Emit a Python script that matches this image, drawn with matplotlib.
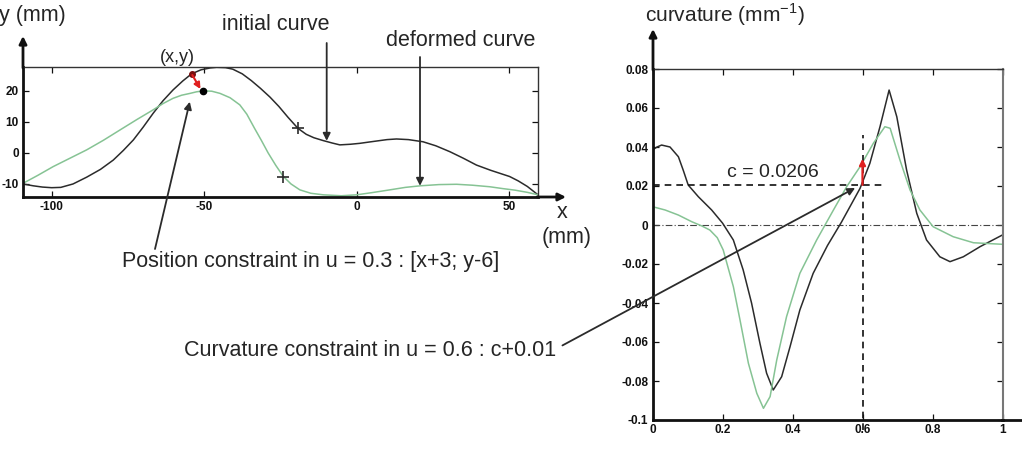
import matplotlib
matplotlib.use("Agg")
import matplotlib.pyplot as plt
from matplotlib.patches import FancyArrowPatch
from matplotlib.lines import Line2D

plt.rcParams['font.family'] = ['Liberation Sans', 'DejaVu Sans']
plt.rcParams['axes.unicode_minus'] = False
plt.rcParams['mathtext.fontset'] = 'custom'
plt.rcParams['mathtext.rm'] = 'Liberation Sans'

# ---------------- data: left panel (mm) ----------------
init_x = [-109.4, -106, -103, -100, -97, -93, -88.5, -84, -79.8, -76.5, -73.2, -70, -66.7,
          -63.5, -60.2, -57, -54.1, -51, -48, -45.9, -43, -40.6, -37.5, -34.5, -31.5, -28.4,
          -25.5, -22.5, -19.2, -16.5, -14, -11, -8, -5.5, -2, 1.1, 4, 7, 10, 13.1, 17, 21.8,
          26, 30.6, 35, 39.3, 44, 50.2, 53, 56, 59.5]
init_y = [-10.0, -10.6, -11.0, -11.2, -11.1, -10.0, -7.8, -5.3, -2.3, 0.8, 4.2, 8.3, 12.8,
          16.8, 20.3, 23.2, 25.5, 26.8, 27.4, 27.6, 27.5, 27.0, 25.5, 23.3, 20.8, 18.0,
          15.0, 11.5, 7.9, 6.0, 4.9, 4.0, 3.2, 2.6, 2.8, 3.1, 3.5, 3.9, 4.3, 4.5, 4.3, 3.6,
          2.3, 0.4, -1.7, -3.9, -5.6, -7.6, -9.0, -10.8, -13.5]
def_x = [-109.4, -104.5, -99.5, -94, -88.5, -83, -77.6, -72, -66.7, -63.5, -60.2, -57.4,
         -54.6, -52.5, -50.3, -47.5, -44.8, -41.5, -38.3, -36, -33.5, -31.2, -29.0, -26.5,
         -24.0, -21.5, -18.6, -15, -10.9, -5, 0, 5, 10.9, 16, 20.8, 27, 32.8, 38, 43.7, 48,
         52, 56, 59.5]
def_y = [-9.8, -7.2, -4.4, -1.7, 1.0, 4.1, 7.4, 10.8, 13.9, 15.9, 17.6, 18.6,
         19.2, 19.7, 20.0, 19.9, 19.2, 17.8, 15.5, 12.5, 8.0, 4.0, 0.0, -4.0,
         -7.6, -10.0, -11.9, -13.0, -13.5, -13.8, -13.5, -12.8, -11.9, -11.1, -10.6, -10.2,
         -10.1, -10.4, -10.9, -11.5, -12.0, -12.7, -13.5]
init_plus = (-19.2, 7.9)
def_plus = (-24.0, -7.6)
pt_xy = (-54.1, 25.5)
pt_new = (-50.3, 20.0)
left_xticks = [-100, -50, 0, 50]
left_yticks = [-10, 0, 10, 20]

# ---------------- data: right panel (curvature) ----------------
u_init = [0.0, 0.013, 0.026, 0.05, 0.074, 0.088, 0.102, 0.131, 0.169, 0.2, 0.231, 0.259,
          0.283, 0.307, 0.326, 0.345, 0.369, 0.393, 0.421, 0.459, 0.5, 0.54, 0.593, 0.621,
          0.65, 0.676, 0.698, 0.726, 0.755, 0.783, 0.821, 0.85, 0.888, 0.936, 1.0]
c_init = [0.0385, 0.040, 0.041, 0.040, 0.035, 0.028, 0.0205, 0.0145, 0.0077, 0.001,
          -0.0077, -0.023, -0.040, -0.0607, -0.076, -0.0846, -0.0778, -0.0624, -0.0436,
          -0.0248, -0.0105, 0.0015, 0.0188, 0.0316, 0.0504, 0.0692, 0.0555, 0.0282, 0.006,
          -0.0077, -0.0163, -0.0188, -0.0163, -0.0111, -0.0051]
u_def = [0.0, 0.036, 0.074, 0.112, 0.141, 0.164, 0.185, 0.202, 0.231, 0.25, 0.274, 0.298,
         0.317, 0.336, 0.355, 0.383, 0.421, 0.469, 0.493, 0.517, 0.555, 0.593, 0.631, 0.664,
         0.679, 0.707, 0.736, 0.764, 0.802, 0.859, 0.917, 1.0]
c_def = [0.0094, 0.0077, 0.0051, 0.0017, -0.0005, -0.0026, -0.0065, -0.0128, -0.0316,
         -0.0487, -0.0709, -0.0863, -0.094, -0.088, -0.0692, -0.047, -0.0248, -0.0077, 0.0,
         0.0077, 0.0197, 0.0299, 0.0419, 0.0504, 0.0496, 0.0333, 0.0179, 0.0077, -0.0009,
         -0.006, -0.0091, -0.0099]
u_c = 0.6
c_val = 0.0206
c_target = 0.034
right_xticks = [0, 0.2, 0.4, 0.6, 0.8, 1]
right_xlabels = ['0', '0.2', '0.4', '0.6', '0.8', '1']
right_yticks = [-0.1, -0.08, -0.06, -0.04, -0.02, 0, 0.02, 0.04, 0.06, 0.08]
right_ylabels = ['-0.1', '-0.08', '-0.06', '-0.04', '-0.02', '0', '0.02', '0.04', '0.06', '0.08']

BLACK = '#2b2b2b'
GREEN = '#86c394'
TXT = '#252525'
W, H = 1022, 455

fig = plt.figure(figsize=(W / 100, H / 100), dpi=100)


def fp(px, py):
    return (px / W, 1 - py / H)


def style_axes(ax):
    for s in ['top', 'right']:
        ax.spines[s].set_linewidth(1.0)
        ax.spines[s].set_color('#333333')
    for s in ['left', 'bottom']:
        ax.spines[s].set_linewidth(2.0)
        ax.spines[s].set_color('#111111')
    ax.tick_params(direction='in', length=4, width=0.9, top=True, right=True,
                   labelsize=8.5, pad=3, colors='#111111')
    for lab in ax.get_xticklabels() + ax.get_yticklabels():
        lab.set_fontweight('bold')


def arrow_kw(color=BLACK, lw=1.3, ms=11, shrinkA=0):
    return dict(arrowstyle='-|>', color=color, lw=lw, mutation_scale=ms,
                shrinkA=shrinkA, shrinkB=0)


# ---------------- left panel ----------------
ax1 = fig.add_axes([23 / W, 1 - 197 / H, (538 - 23) / W, (197 - 67) / H])
ax1.plot(init_x, init_y, color=BLACK, lw=1.1)
ax1.plot(def_x, def_y, color=GREEN, lw=1.1)
ax1.plot(*init_plus, marker='+', color=BLACK, ms=8, mew=1.2)
ax1.plot(*def_plus, marker='+', color=BLACK, ms=8, mew=1.2)
ax1.plot(*pt_xy, marker='o', color='#7a1010', ms=4)
ax1.plot(*pt_new, marker='o', color='black', ms=4.5)
ax1.annotate('', xy=(pt_new[0] - 0.9, pt_new[1] + 0.6), xytext=pt_xy,
             arrowprops=arrow_kw('#e02020', 1.5, 9, 1))
ax1.set_xlim(-109.4, 59.5)
ax1.set_ylim(-14.2, 27.7)
ax1.set_xticks(left_xticks)
ax1.set_yticks(left_yticks)
style_axes(ax1)

ax1.annotate('', xy=(-9.8, 3.9), xytext=fp(326.7, 43), textcoords='figure fraction',
             arrowprops=arrow_kw(), annotation_clip=False)
ax1.annotate('', xy=(20.8, -10.6), xytext=fp(420, 57), textcoords='figure fraction',
             arrowprops=arrow_kw(), annotation_clip=False)
ax1.annotate('', xy=(-54.7, 16.5), xytext=fp(155, 249), textcoords='figure fraction',
             arrowprops=arrow_kw(), annotation_clip=False)

fig.text(*fp(276, 25), 'initial curve', fontsize=15.5, color=TXT, ha='center', va='center')
fig.text(*fp(461, 41), 'deformed curve', fontsize=15.5, color=TXT, ha='center', va='center')
fig.text(*fp(177, 58), '(x,y)', fontsize=13, color=TXT, ha='center', va='center')
fig.text(*fp(-1, 15), 'y (mm)', fontsize=15.5, color=TXT, ha='left', va='center')
fig.text(*fp(562, 213), 'x', fontsize=15.5, color=TXT, ha='center', va='center')
fig.text(*fp(567, 237), '(mm)', fontsize=15.5, color=TXT, ha='center', va='center')
fig.text(*fp(311, 261), 'Position constraint in u = 0.3 : [x+3; y-6]', fontsize=15.5,
         color=TXT, ha='center', va='center')

fig.add_artist(FancyArrowPatch(fp(23, 68), fp(23, 36), transform=fig.transFigure,
                               arrowstyle='-|>', mutation_scale=11, lw=2.0,
                               color='#111111', shrinkA=0, shrinkB=0))
fig.add_artist(FancyArrowPatch(fp(537, 197), fp(566, 197), transform=fig.transFigure,
                               arrowstyle='-|>', mutation_scale=11, lw=2.0,
                               color='#111111', shrinkA=0, shrinkB=0))

# ---------------- right panel ----------------
ax2 = fig.add_axes([652.5 / W, 1 - 420 / H, 350 / W, (420 - 69) / H])
ax2.axhline(0, color='#444444', lw=0.8, ls=(0, (6, 2, 1, 2)))
ax2.plot(u_init, c_init, color=BLACK, lw=1.1)
ax2.plot(u_def, c_def, color=GREEN, lw=1.1)
ax2.plot([0, 0.658], [c_val, c_val], color='#111111', lw=1.2, ls=(0, (4, 3)))
ax2.plot([u_c, u_c], [-0.105, 0.0462], color='#111111', lw=1.2, ls=(0, (4, 3)),
         clip_on=False)
ax2.annotate('', xy=(u_c, c_target), xytext=(u_c, c_val),
             arrowprops=arrow_kw('#e02020', 1.6, 9))
ax2.text(0.344, 0.0267, 'c = 0.0206', fontsize=14, color=TXT, ha='center', va='center')
ax2.set_xlim(0, 1)
ax2.set_ylim(-0.1, 0.08)
ax2.set_xticks(right_xticks)
ax2.set_xticklabels(right_xlabels)
ax2.set_yticks(right_yticks)
ax2.set_yticklabels(right_ylabels)
style_axes(ax2)
ax2.spines['right'].set_color('#777777')
ax2.spines['right'].set_linewidth(1.5)

ax2.annotate('Curvature constraint in u = 0.6 : c+0.01', xy=(0.579, 0.019),
             xytext=fp(556, 351), textcoords='figure fraction', ha='right', va='center',
             fontsize=15.5, color=TXT,
             arrowprops=dict(arrowstyle='-|>', color=BLACK, lw=1.3, mutation_scale=11,
                             shrinkA=3, shrinkB=0, relpos=(1.0, 0.6)),
             annotation_clip=False)
fig.text(*fp(645, 15), 'curvature (mm$^{-1}$)', fontsize=15, color=TXT, ha='left',
         va='center')

fig.add_artist(FancyArrowPatch(fp(653, 70), fp(653, 29), transform=fig.transFigure,
                               arrowstyle='-|>', mutation_scale=11, lw=2.0,
                               color='#111111', shrinkA=0, shrinkB=0))
fig.add_artist(Line2D([1002 / W, 1.0], [1 - 420 / H, 1 - 420 / H],
                      transform=fig.transFigure, lw=2.0, color='#111111'))

fig.savefig('out.png', dpi=100)
